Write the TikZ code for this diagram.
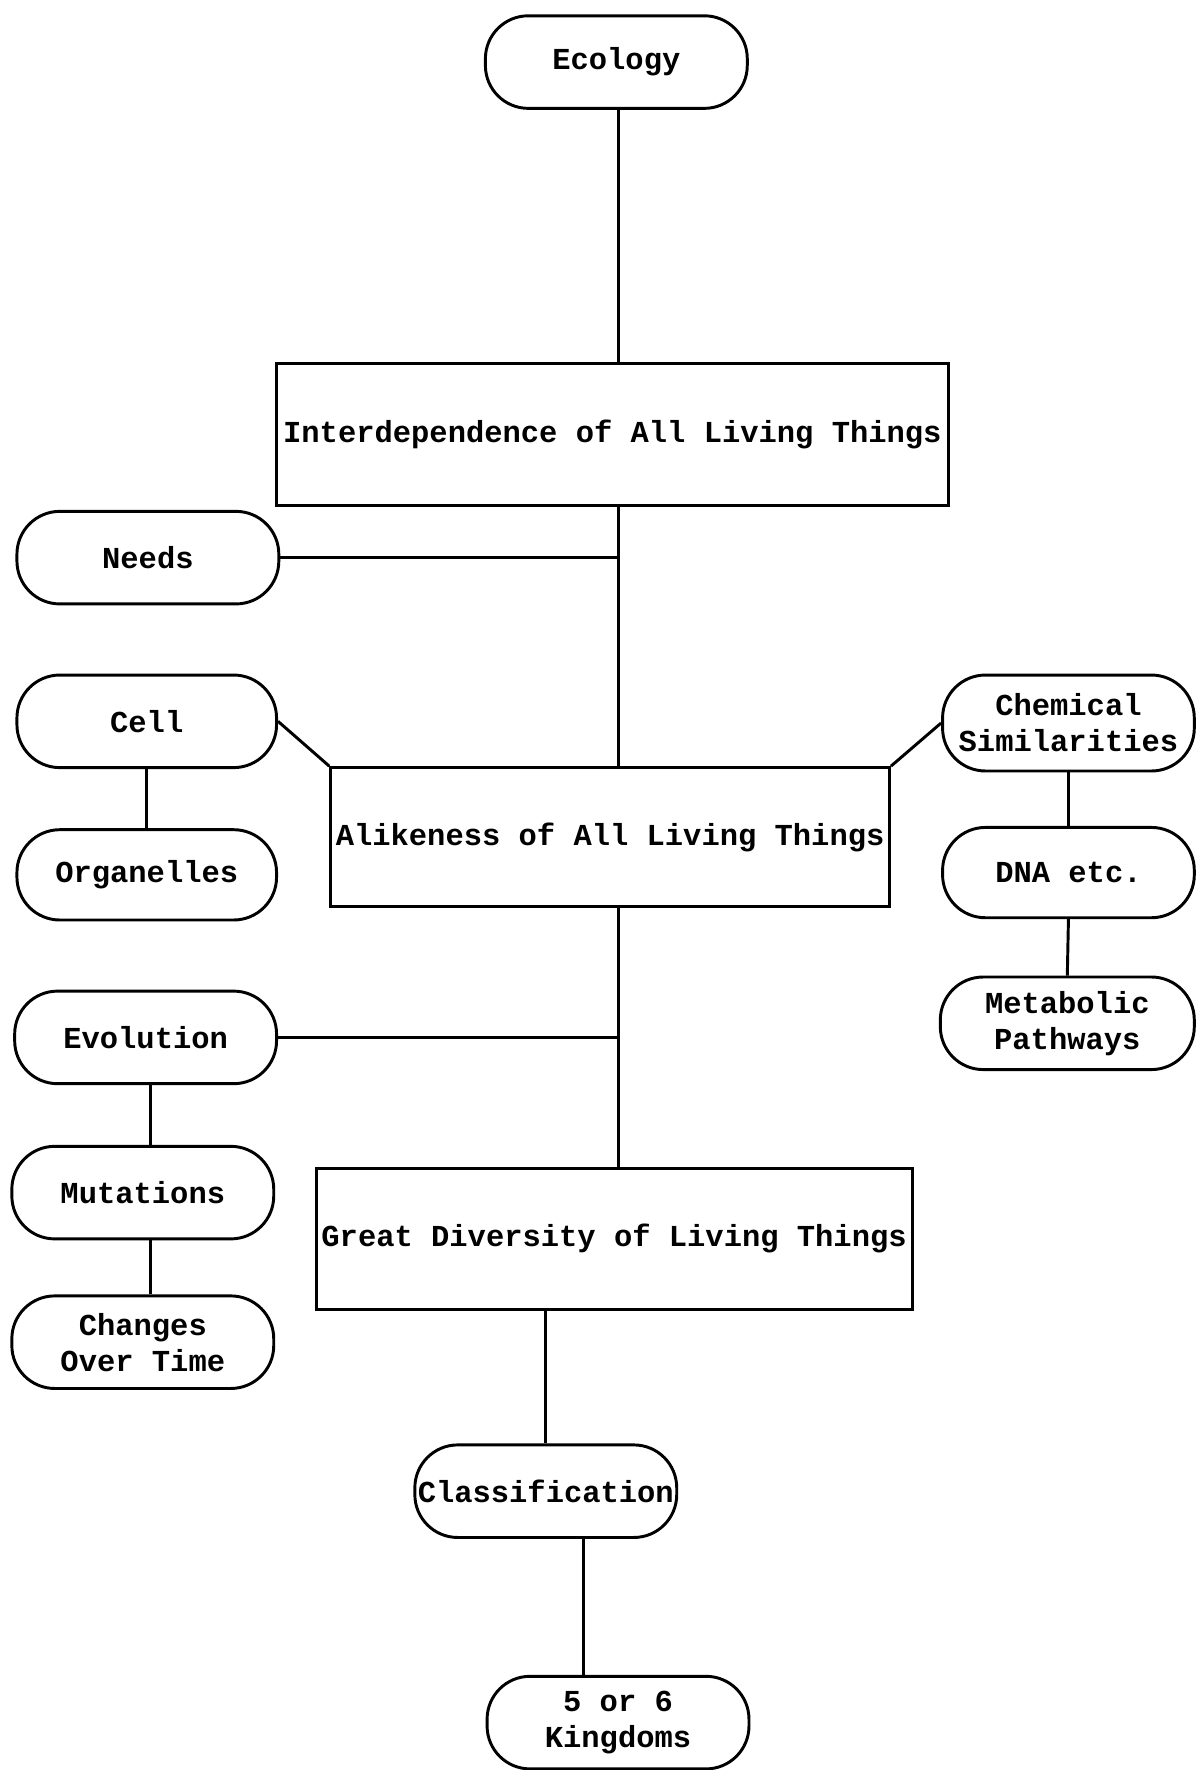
\documentclass[tikz,border=0pt]{standalone}
\usepackage{fontspec}
\setmonofont{Liberation Mono}
\usepackage{tikz}
\usetikzlibrary{calc}

\tikzset{
  pill/.style={draw, line width=1.3pt, rounded corners=19pt, inner sep=1pt,
    minimum width=116pt, minimum height=41pt, align=center,
    font=\ttfamily\bfseries\fontsize{13.5}{16}\selectfont},
  topic/.style={draw, line width=1.3pt, inner sep=1pt, align=center,
    font=\ttfamily\bfseries\fontsize{13.5}{16}\selectfont},
  link/.style={line width=1.3pt}
}

\begin{document}
\begin{tikzpicture}[x=0.5pt,y=-0.5pt]

\useasboundingbox (0,0) rectangle (1060,1568);

% Spine and drop positions
\coordinate (trunk) at (548,0);
\coordinate (drop) at (517,0);
\coordinate (ldrop) at (133,0);

% Ecology
\node[pill, minimum width=116pt] (eco) at (546,55) {Ecology};

% Main topics
\node[topic, minimum width=297.5pt, minimum height=63pt] (inter) at (542.5,385) {Interdependence of All Living Things};
\node[topic, minimum width=247.5pt, minimum height=61.5pt] (alike) at (540.5,741.5) {Alikeness of All Living Things};
\node[topic, minimum width=264pt, minimum height=62.5pt] (great) at (544,1097.5) {Great Diversity of Living Things};

% Left side
\node[pill] (needs) at (131,494) {Needs};
\node[pill, minimum width=115pt] (cell) at (130,639) {Cell};
\node[pill, minimum width=115pt, minimum height=40pt] (org) at (130,775) {Organelles};
\node[pill] (evo) at (129,919) {Evolution};
\node[pill] (mut) at (126.5,1056.5) {Mutations};
\node[pill] (chg) at (126.5,1189) {Changes\\Over Time};

% Right side
\node[pill, minimum width=111.5pt, minimum height=42.5pt] (chem) at (946.5,640.5) {Chemical\\Similarities};
\node[pill, minimum width=111.5pt, minimum height=40pt] (dna) at (946.5,773) {DNA etc.};
\node[pill, minimum width=112.5pt] (meta) at (945.5,906.5) {Metabolic\\Pathways};

% Bottom
\node[pill] (cls) at (483.5,1321) {Classification};
\node[pill] (king) at (547.5,1526) {5 or 6\\Kingdoms};

% Spine
\draw[link] (eco.south -| trunk) -- (inter.north -| trunk);
\draw[link] (inter.south -| trunk) -- (alike.north -| trunk);
\draw[link] (alike.south -| trunk) -- (great.north -| trunk);
\draw[link] (needs.east) -- (needs.east -| trunk);
\draw[link] (evo.east) -- (evo.east -| trunk);

% Cell branch
\draw[link] (cell.east) -- (alike.north west);
\draw[link] (cell.south) -- (org.north);

% Chemical branch
\draw[link] (chem.west) -- (alike.north east);
\draw[link] (chem.south) -- (dna.north);
\draw[link] (dna.south) -- (meta.north);

% Evolution branch
\draw[link] (evo.south -| ldrop) -- (mut.north -| ldrop);
\draw[link] (mut.south -| ldrop) -- (chg.north -| ldrop);

% Diversity branch
\draw[link] (great.south -| cls.north) -- (cls.north);
\draw[link] (cls.south -| drop) -- (king.north -| drop);

\end{tikzpicture}
\end{document}
